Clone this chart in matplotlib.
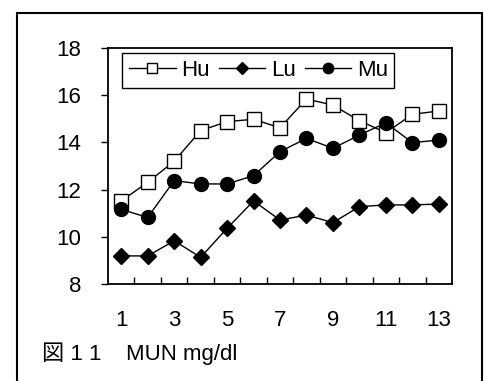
import matplotlib.pyplot as plt
from matplotlib.patches import Rectangle

plt.rcParams['font.family'] = ['Liberation Sans', 'Noto Sans CJK JP']

months = list(range(1, 14))
hu = [11.52, 12.31, 13.2, 14.5, 14.88, 14.98, 14.62, 15.84, 15.58, 14.92, 14.41, 15.19, 15.33]
lu = [9.19, 9.19, 9.83, 9.13, 10.36, 11.52, 10.71, 10.92, 10.6, 11.28, 11.35, 11.35, 11.39]
mu = [11.16, 10.82, 12.38, 12.24, 12.24, 12.59, 13.61, 14.17, 13.75, 14.31, 14.83, 13.99, 14.1]

fig = plt.figure(figsize=(4.85, 3.81), dpi=100)
ax = fig.add_axes([0.2227, 0.2546, 0.7093, 0.6194])

ax.plot(months, hu, color='black', lw=1, marker='s', ms=9.5, mfc='white', mec='black', mew=1, label='Hu')
ax.plot(months, lu, color='black', lw=1, marker='D', ms=8.5, mfc='black', mec='black', label='Lu')
ax.plot(months, mu, color='black', lw=1, marker='o', ms=10, mfc='black', mec='black', label='Mu')

ax.set_xlim(0.5, 13.5)
ax.set_ylim(8, 18)
ax.set_yticks([8, 10, 12, 14, 16, 18])
ax.set_xticks([1, 3, 5, 7, 9, 11, 13])
ax.set_xticks([x + 0.5 for x in months[:-1]], minor=True)
ax.tick_params(axis='x', which='major', length=0, pad=19, labelsize=16)
ax.tick_params(axis='x', which='minor', direction='in', length=5, width=1)
ax.tick_params(axis='y', direction='out', length=5, width=1, pad=14, labelsize=16)
for s in ax.spines.values():
    s.set_linewidth(1.3)

leg = ax.legend(loc='upper left', bbox_to_anchor=(0.042, 0.978), ncol=3, fontsize=16,
                frameon=True, fancybox=False, edgecolor='black', framealpha=1,
                handlelength=2.1, handletextpad=0.25, columnspacing=0.4,
                borderpad=0.3, borderaxespad=0, markerscale=0.75)
leg.get_frame().set_linewidth(1)

fig.text(42 / 485, 1 - 354 / 381, '図 1 1    MUN mg/dl', fontsize=16, va='center', ha='left')

fig.add_artist(Rectangle((17 / 485, -0.1), (482 - 17) / 485, 1.1 - 13 / 381,
                         transform=fig.transFigure, fill=False, lw=1.5, ec='black'))

fig.savefig('out.png', dpi=100)
